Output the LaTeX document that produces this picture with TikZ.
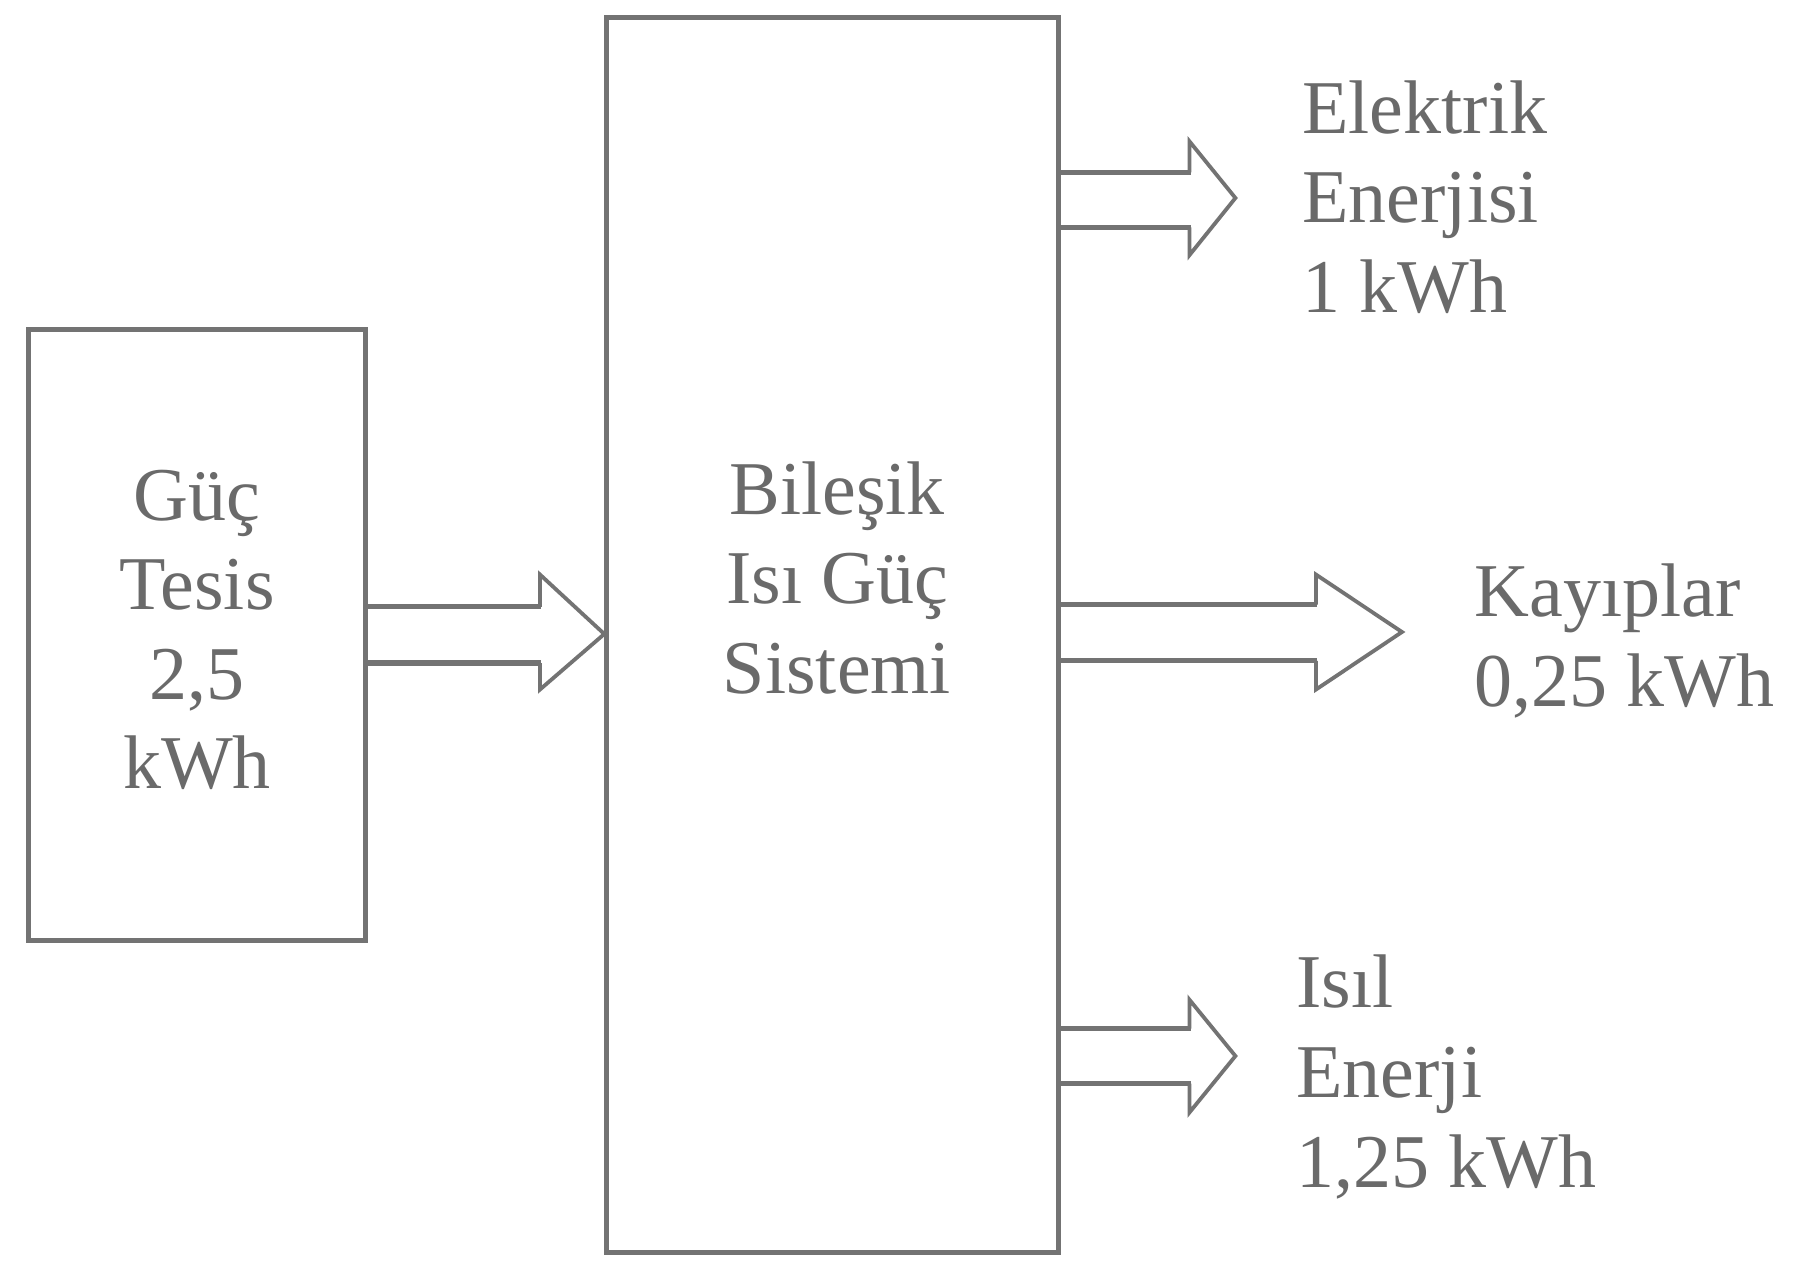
\documentclass[tikz,border=0pt]{standalone}
\usepackage{fontspec}
\setmainfont{Liberation Serif}
\definecolor{ln}{HTML}{737373}
\definecolor{tx}{HTML}{6A6A6A}
\begin{document}
\begin{tikzpicture}[x=0.5pt,y=-0.5pt,
  box/.style={draw=ln,line width=2.5pt,rectangle,inner sep=0pt},
  shaft/.style={draw=ln,line width=2.6pt},
  head/.style={draw=ln,line width=1.9pt,line join=miter},
  lbl/.style={text=tx,inner sep=0pt,font=\fontsize{38pt}{44.8pt}\selectfont},
]
\useasboundingbox[fill=white] (0,0) rectangle (1802,1262);
\node[box,minimum width=168.5pt,minimum height=305pt] (L) at (197,635) {};
\node[box,minimum width=225.8pt,minimum height=617.7pt] (C) at (832.6,635) {};
\node[lbl,align=center] (Lt) at (197,630) {Güç\\Tesis\\2,5\\kWh};
\node[lbl,align=center] (Ct) at (837,578) {Bileşik\\Isı Güç\\Sistemi};
\node[lbl,align=left,anchor=west] (E) at (1302,197) {Elektrik\\Enerjisi\\1 kWh};
\node[lbl,align=left,anchor=west] (K) at (1474,641) {Kayıplar\\0,25 kWh};
\node[lbl,align=left,anchor=west] (I) at (1296,1077) {Isıl\\Enerji\\1,25 kWh};
% input arrow
\draw[shaft] (L.east |- 0,606.8) -- (541,606.8) (L.east |- 0,663) -- (541,663);
\draw[head] (540,606.8) -- (540,574.6) -- (C.west |- 0,634) -- (540,689.5) -- (540,663);
% electric arrow
\draw[shaft] (C.east |- 0,172.4) -- (1190.5,172.4) (C.east |- 0,227.5) -- (1190.5,227.5);
\draw[head] (1189.5,172.4) -- (1189.5,141.4) -- (1235.4,198) -- (1189.5,255.1) -- (1189.5,227.5);
% losses arrow
\draw[shaft] (C.east |- 0,604.5) -- (1317,604.5) (C.east |- 0,660.8) -- (1317,660.8);
\draw[head] (1316,604.5) -- (1316,574.6) -- (1402,632) -- (1316,689.5) -- (1316,660.8);
% heat arrow
\draw[shaft] (C.east |- 0,1028.6) -- (1190.5,1028.6) (C.east |- 0,1083.7) -- (1190.5,1083.7);
\draw[head] (1189.5,1028.6) -- (1189.5,999.8) -- (1235.4,1056) -- (1189.5,1112.4) -- (1189.5,1083.7);
\end{tikzpicture}
\end{document}
